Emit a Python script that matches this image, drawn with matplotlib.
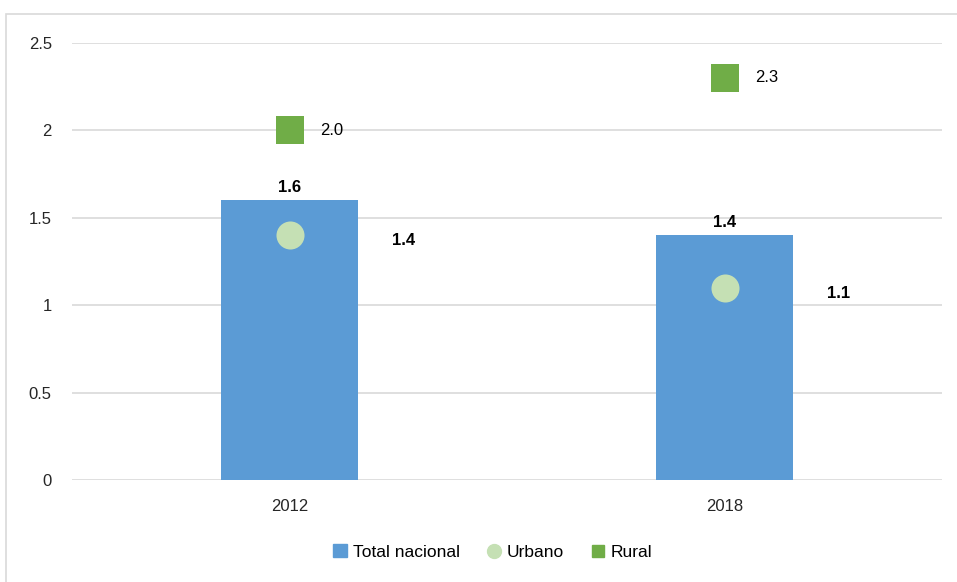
import matplotlib
matplotlib.use("Agg")
import matplotlib.pyplot as plt
from matplotlib import font_manager
from matplotlib.patches import Rectangle
from matplotlib.lines import Line2D

names = {f.name for f in font_manager.fontManager.ttflist}
fam = "Liberation Sans Narrow" if "Liberation Sans Narrow" in names else "Liberation Sans"
plt.rcParams['font.family'] = [fam, 'DejaVu Sans']

years = ["2012", "2018"]
total = [1.6, 1.4]
urbano = [1.4, 1.1]
rural = [2.0, 2.3]
yticks = [0, 0.5, 1, 1.5, 2, 2.5]
ytick_labels = ["0", "0.5", "1", "1.5", "2", "2.5"]

c_total = "#5b9bd5"
c_urb = "#c5e0b4"
c_rur = "#70ad47"

fig = plt.figure(figsize=(9.57, 5.82), dpi=100)
fig.patches.append(Rectangle((6/957, -0.1), 1.1, (582-14)/582 + 0.1, transform=fig.transFigure,
                             fill=False, edgecolor="#d9d9d9", linewidth=1.2))
ax = fig.add_axes([72/957, 102/582, 870/957, 437/582])
x = list(range(len(years)))
ax.bar(x, total, width=0.317, color=c_total, zorder=2, label="Total nacional")
ax.scatter(x, urbano, s=28**2*0.52, marker="o", color=c_urb, zorder=3, label="Urbano", linewidths=0)
ax.scatter(x, rural, s=28**2*0.52, marker="s", color=c_rur, zorder=3, label="Rural", linewidths=0)

for xi, v in zip(x, total):
    ax.annotate(f"{v:.1f}", (xi, v), xytext=(0, 4), textcoords="offset points",
                ha="center", va="bottom", fontsize=12, fontweight="bold")
for xi, v in zip(x, urbano):
    ax.annotate(f"{v:.1f}", (xi, v), xytext=(114*0.72, -4), textcoords="offset points",
                ha="center", va="center", fontsize=12, fontweight="bold")
for xi, v in zip(x, rural):
    ax.annotate(f"{v:.1f}", (xi, v), xytext=(22, 0), textcoords="offset points",
                ha="left", va="center", fontsize=12)

ax.set_xlim(-0.5, 1.5)
ax.set_ylim(0, 2.5)
ax.set_yticks(yticks)
ax.set_yticklabels(ytick_labels)
ax.set_xticks(x)
ax.set_xticklabels(years)
ax.tick_params(length=0, labelsize=12, colors="#262626")
ax.tick_params(axis="y", pad=14.5)
ax.tick_params(axis="x", pad=14)
ax.grid(axis="y", color="#d9d9d9", linewidth=1.2, zorder=0)
ax.set_axisbelow(True)
for s in ax.spines.values():
    s.set_visible(False)

handles = [Rectangle((0, 0), 1, 1, color=c_total),
           Line2D([], [], marker="o", color=c_urb, linestyle="none", markersize=10),
           Line2D([], [], marker="s", color=c_rur, linestyle="none", markersize=9)]
fig.legend(handles, ["Total nacional", "Urbano", "Rural"], loc="center", bbox_to_anchor=(0.515, 30/582),
           ncol=3, frameon=False, fontsize=12.5, handlelength=0.8, handleheight=0.8,
           handletextpad=0.3, columnspacing=1.6)
fig.savefig("out.png", dpi=100)
